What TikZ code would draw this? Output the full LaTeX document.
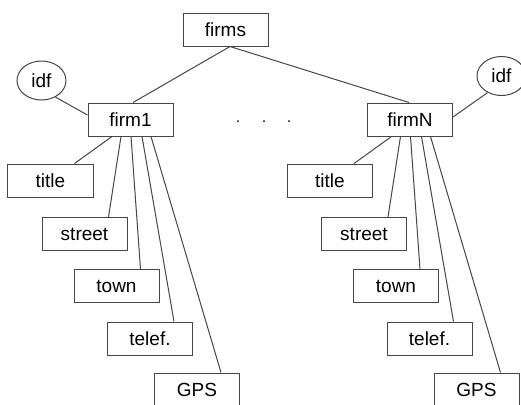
\documentclass[tikz,border=0pt]{standalone}
\usepackage{fontspec}
\setmainfont{Liberation Sans}
\usepackage{xcolor}
\definecolor{LineGray}{HTML}{454545}
\usepackage{tikz}
\usetikzlibrary{calc, shapes.geometric}

\begin{document}
\begin{tikzpicture}[x=0.5pt, y=-0.5pt,
  box/.style={draw=LineGray, line width=0.5pt, minimum width=42.5pt,
    minimum height=16.5pt, inner sep=0pt, font=\fontsize{9.5}{10}\selectfont},
  attr/.style={draw=LineGray, line width=0.5pt, ellipse, minimum width=24.5pt,
    minimum height=19.5pt, inner sep=0pt, font=\fontsize{9.5}{10}\selectfont},
  link/.style={LineGray, line width=0.5pt}]
  \useasboundingbox (0,0) rectangle (521,404);

  %% root and firms
  \node[box] (firms) at (225.5,29.5) {firms};
  \node[box] (firm1) at (130.5,119.5) {firm1};
  \node[box] (firmN) at (410,119.5) {firmN};
  \draw[link] ($(firms.south)+(4.5,0)$) -- ($(firm1.north)+(2.5,0)$);
  \draw[link] ($(firms.south)+(4.5,0)$) -- ($(firmN.north)+(-1,0)$);

  %% identifiers
  \node[attr] (idf1) at (41.5,80.5) {idf};
  \node[attr] (idfN) at (501.5,76) {idf};
  \draw[link] (idf1.-50) -- ($(firm1.west)+(0,-4.5)$);
  \draw[link] (idfN.-130) -- ($(firmN.east)+(0,-2.5)$);

  %% dots between the firms
  \foreach \x in {238, 264, 289}
    \fill[black] (\x,121) circle (1);

  %% fields of each firm
  \foreach \f/\dx in {firm1/0, firmN/279.5}{
    \foreach \fld/\lbl/\x/\y/\a in {
      title/title/50.5/180.5/-18.5, street/street/84.5/234/-9.5,
      town/town/116.5/286/0.5, tel/telef./150/338.5/11.5,
      gps/GPS/197/389.5/20.5}{
      \node[box] (\f-\fld) at ({\x+\dx},\y) {\lbl};
      \draw[link] ($(\f.south)+(\a,0)$) -- ($(\f-\fld.north)+(24,0)$);
    }
  }
\end{tikzpicture}
\end{document}
